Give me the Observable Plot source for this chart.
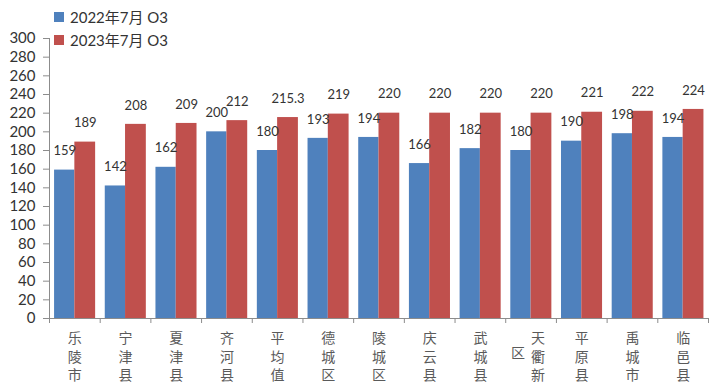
<!DOCTYPE html>
<html>
<head>
<meta charset="utf-8">
<script src="https://cdn.jsdelivr.net/npm/d3@7"></script>
<script src="https://cdn.jsdelivr.net/npm/@observablehq/plot@0.6"></script>
<style>
  html, body { margin: 0; padding: 0; background: #fff; }
  #wrap { position: relative; width: 720px; height: 388px; }
  #legend { position: absolute; left: 54px; top: 5px; font-family: Lato, "Noto Sans CJK SC", sans-serif; font-size: 15px; color: #333; }
  #legend .row { display: flex; align-items: center; height: 23px; }
  #legend .sw { width: 10px; height: 10px; margin-right: 6px; }
</style>
</head>
<body>
<div id="wrap">
  <div id="chart"></div>
  <div id="legend"></div>
</div>
<script>
const categories = ["乐陵市","宁津县","夏津县","齐河县","平均值","德城区","陵城区","庆云县","武城县","天衢新区","平原县","禹城市","临邑县"];
const o3_2022 = [159,142,162,200,180,193,194,166,182,180,190,198,194];
const o3_2023 = [189,208,209,212,215.3,219,220,220,220,220,221,222,224];
const seriesNames = ["2022年7月 O3","2023年7月 O3"];
const seriesColors = ["#4F81BD","#C0504D"];
const yTicks = [0,20,40,60,80,100,120,140,160,180,200,220,240,260,280,300];

const rows = categories.flatMap((c, i) => [
  {cat: c, i, s: 0, series: seriesNames[0], value: o3_2022[i]},
  {cat: c, i, s: 1, series: seriesNames[1], value: o3_2023[i]}
]);
const boundaries = categories.map((_, i) => i - 0.5).concat([categories.length - 0.5]);
const shortCats = categories.map((c, i) => ({c, i})).filter(d => d.c.length <= 3);
const longCats = categories.map((c, i) => ({c, i})).filter(d => d.c.length > 3);
const col = s => s.split("").join("\n");

const plot = Plot.plot({
  width: 720,
  height: 388,
  marginLeft: 49,
  marginRight: 12,
  marginTop: 38,
  marginBottom: 70,
  style: {fontFamily: "Lato, 'Noto Sans CJK SC', sans-serif", background: "#fff", color: "#333"},
  x: {type: "linear", domain: [-0.5, categories.length - 0.5]},
  y: {domain: [0, 300], label: null},
  color: {domain: seriesNames, range: seriesColors},
  marks: [
    Plot.rectY(rows, {
      x1: d => d.i + (d.s === 0 ? -0.4 : 0),
      x2: d => d.i + (d.s === 0 ? 0 : 0.41),
      y1: 0, y2: "value", fill: "series"
    }),
    Plot.text(rows, {
      x: d => d.i + (d.s === 0 ? -0.2 : 0.205),
      y: "value", text: d => String(d.value),
      dy: -19, fontSize: 13, fill: "#333"
    }),
    Plot.ruleX([-0.5], {y1: 0, y2: 300, stroke: "#8c8c8c"}),
    Plot.ruleY([0], {stroke: "#8c8c8c"}),
    Plot.axisY({ticks: yTicks, tickSize: 6, tickPadding: 8, fontSize: 15, stroke: "#8c8c8c", fill: "#333", label: null}),
    Plot.axisX({ticks: boundaries, tickFormat: () => "", tickSize: 5, stroke: "#8c8c8c", label: null}),
    Plot.text(shortCats, {
      x: "i", frameAnchor: "bottom", text: d => col(d.c),
      lineAnchor: "top", dy: 12, lineHeight: 1.3, fontSize: 14,
      fill: "#5a5a5a", fontFamily: "'Noto Sans CJK SC', sans-serif"
    }),
    Plot.text(longCats, {
      x: "i", frameAnchor: "bottom", text: d => col(d.c.slice(0, 3)),
      lineAnchor: "top", dy: 12, dx: 7, lineHeight: 1.3, fontSize: 14,
      fill: "#5a5a5a", fontFamily: "'Noto Sans CJK SC', sans-serif"
    }),
    Plot.text(longCats, {
      x: "i", frameAnchor: "bottom", text: d => col(d.c.slice(3)),
      lineAnchor: "top", dy: 27, dx: -13, lineHeight: 1.3, fontSize: 14,
      fill: "#5a5a5a", fontFamily: "'Noto Sans CJK SC', sans-serif"
    })
  ]
});
document.getElementById("chart").appendChild(plot);

const legend = document.getElementById("legend");
seriesNames.forEach((name, k) => {
  const row = document.createElement("div");
  row.className = "row";
  const sw = document.createElement("span");
  sw.className = "sw";
  sw.style.background = seriesColors[k];
  const t = document.createElement("span");
  t.textContent = name;
  row.appendChild(sw);
  row.appendChild(t);
  legend.appendChild(row);
});
</script>
</body>
</html>
